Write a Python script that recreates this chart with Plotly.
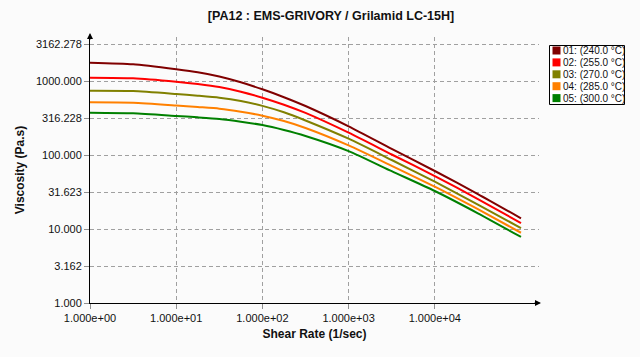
import plotly.graph_objects as go

# ---- data ----
shear_rate = [1.0, 3.162, 10.0, 17.78, 31.62, 56.23, 100.0, 177.8, 316.2,
              1000.0, 3162.0, 10000.0, 31620.0, 100000.0]
visc_240 = [1767, 1682, 1439, 1311, 1150, 960, 772, 604, 459, 244, 121, 60.8, 29.7, 13.95]
visc_255 = [1108, 1088, 978, 911, 830, 717, 595, 478, 370, 200, 101.6, 52.0, 25.4, 12.05]
visc_270 = [739, 732, 667, 633, 595, 537, 461, 378, 293, 166, 85.6, 43.6, 21.3, 10.3]
visc_285 = [516, 509, 467, 445, 423, 385, 340, 288, 232, 135, 71.5, 37.3, 18.5, 8.9]
visc_300 = [373, 366, 337, 323, 307, 282, 254, 218, 181, 113, 60.4, 32.6, 16.3, 7.8]

series_names = ["01: (240.0 °C)", "02: (255.0 °C)", "03: (270.0 °C)",
                "04: (285.0 °C)", "05: (300.0 °C)"]
series_colors = ["#800000", "#ff0000", "#808000", "#ff8000", "#008000"]

x_tick_vals = [1, 10, 100, 1000, 10000]
x_tick_text = ["1.000e+00", "1.000e+01", "1.000e+02", "1.000e+03", "1.000e+04"]
y_tick_vals = [1, 3.162278, 10, 31.62278, 100, 316.2278, 1000, 3162.278]
y_tick_text = ["1.000", "3.162", "10.000", "31.623", "100.000", "316.228", "1000.000", "3162.278"]

title_text = "[PA12 : EMS-GRIVORY / Grilamid LC-15H]"
x_title = "Shear Rate (1/sec)"
y_title = "Viscosity (Pa.s)"

# ---- layout geometry (pixels) ----
W, H = 640, 357
L, R, T, B = 90, 539, 37, 303
FONT = "Liberation Sans, Arial, sans-serif"
BG = "#fbfbfb"


def px(xp):
    return (xp - L) / (R - L)


def py(yp):
    return (B - yp) / (B - T)


fig = go.Figure()
all_visc = [visc_240, visc_255, visc_270, visc_285, visc_300]
for name, col, vals in zip(series_names, series_colors, all_visc):
    fig.add_trace(go.Scatter(
        x=shear_rate, y=vals, mode="lines", name=name,
        line=dict(color=col, width=2, shape="spline", smoothing=0.6),
        showlegend=False,
    ))

grid = dict(showgrid=True, gridcolor="#a0a0a0", griddash="4px,3px", gridwidth=1)

fig.update_xaxes(
    type="log", range=[0, (R - L) / 86.2], tickvals=x_tick_vals, ticktext=x_tick_text,
    ticks="outside", ticklen=5, tickcolor="#909090", tickfont=dict(family=FONT, size=11, color="#111"),
    showline=True, linecolor="black", linewidth=1, zeroline=False, automargin=False,
    title=dict(text="<b>" + x_title + "</b>", font=dict(family=FONT, size=12, color="#111"), standoff=6),
    **grid,
)
fig.update_yaxes(
    type="log", range=[0, (B - T) / 74.0], tickvals=y_tick_vals, ticktext=y_tick_text,
    ticks="outside", ticklen=5, tickcolor="#909090", tickfont=dict(family=FONT, size=11, color="#111"),
    showline=True, linecolor="black", linewidth=1, zeroline=False, automargin=False,
    title=dict(text="<b>" + y_title + "</b>", font=dict(family=FONT, size=12, color="#111"), standoff=8),
    **grid,
)

shapes = []
annotations = []
# axis arrows
annotations.append(dict(x=0, y=py(33), xref="paper", yref="paper", ax=0, ay=8,
                        showarrow=True, arrowhead=2, arrowsize=1, arrowwidth=1.2,
                        arrowcolor="black", text=""))
annotations.append(dict(x=px(541), y=0, xref="paper", yref="paper", ax=-8, ay=0,
                        showarrow=True, arrowhead=2, arrowsize=1, arrowwidth=1.2,
                        arrowcolor="black", text=""))

# legend box
shapes.append(dict(type="rect", xref="paper", yref="paper",
                   x0=px(549.5), x1=px(624.5), y0=py(104.5), y1=py(45.5),
                   line=dict(color="black", width=1), fillcolor="white", layer="above"))
for i, (name, col) in enumerate(zip(series_names, series_colors)):
    cy = 50.5 + i * 11.9
    shapes.append(dict(type="rect", xref="paper", yref="paper",
                       x0=px(552.5), x1=px(560.5), y0=py(cy + 4), y1=py(cy - 4),
                       line=dict(width=0), fillcolor=col, layer="above"))
    annotations.append(dict(x=px(561), y=py(cy), xref="paper", yref="paper",
                            xanchor="left", yanchor="middle", showarrow=False,
                            text=name, font=dict(family=FONT, size=10, color="#111")))

fig.update_layout(
    width=W, height=H,
    margin=dict(l=L, r=W - R, t=T, b=H - B, pad=0),
    paper_bgcolor=BG, plot_bgcolor=BG,
    title=dict(text="<b>" + title_text + "</b>", x=331 / W, xanchor="center",
               y=1 - 11 / H, yanchor="top", xref="container", yref="container",
               font=dict(family=FONT, size=12.5, color="#111")),
    shapes=shapes, annotations=annotations,
    showlegend=False,
)

fig.write_html("out.html", config={"displayModeBar": False},
               post_script="document.body.style.margin='0';document.body.style.background='%s';" % BG)
